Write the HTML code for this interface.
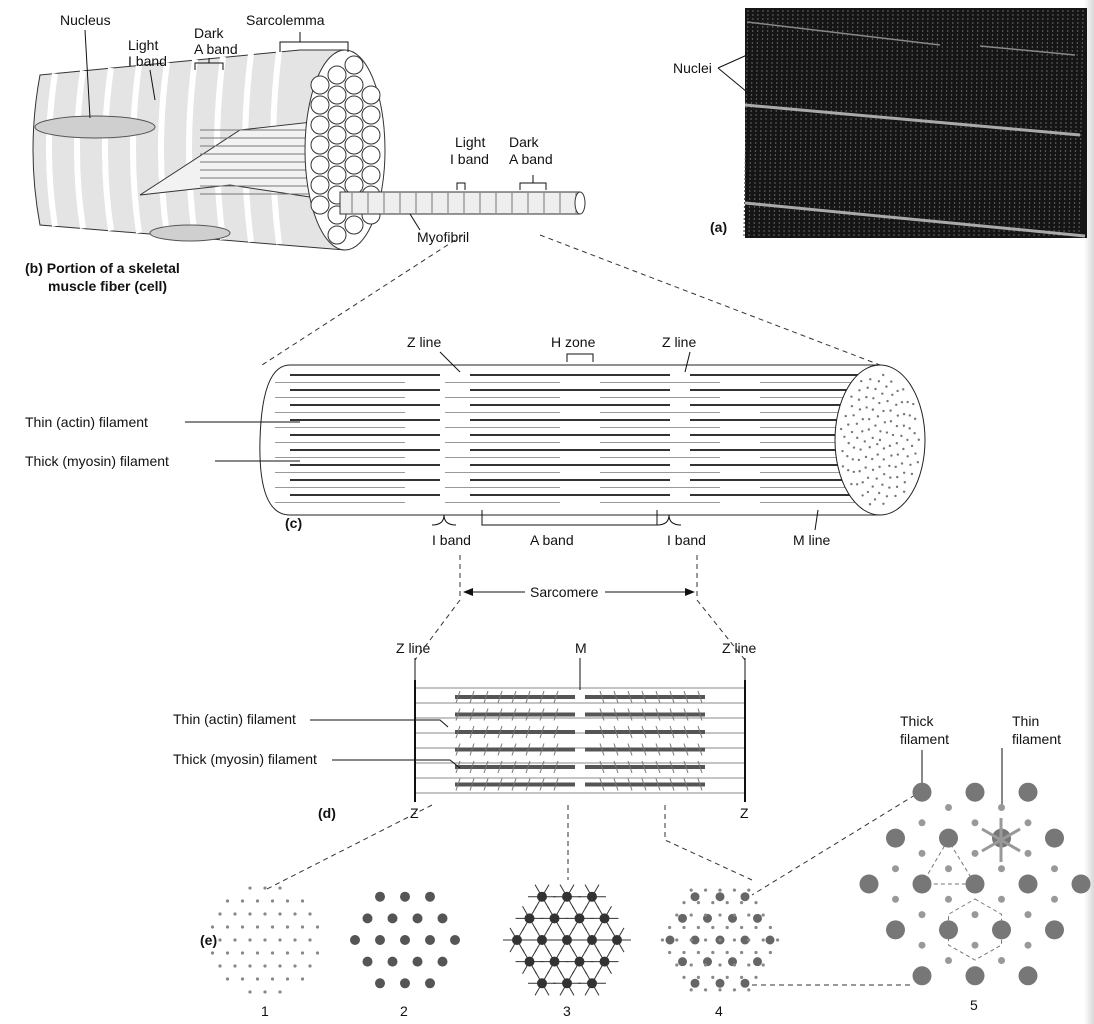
<!DOCTYPE html>
<html><head><meta charset="utf-8"><style>
body{margin:0;background:#fff}
svg{display:block}
text{font-family:"Liberation Sans",sans-serif;font-size:14px;fill:#111}
.b{font-weight:bold}
</style></head><body>
<svg id="s" width="1094" height="1024" viewBox="0 0 1094 1024">
<defs>
<linearGradient id="edge" x1="0" x2="1"><stop offset="0" stop-color="#fff"/><stop offset="1" stop-color="#d8d8d8"/></linearGradient>
</defs>
<rect x="1084" y="0" width="10" height="1024" fill="url(#edge)"/>
<!-- (a) photo -->
<g>
<rect x="745" y="8" width="342" height="230" fill="#151515"/>
<g id="stripes"></g>
<text x="673" y="73">Nuclei</text>
<line x1="718" y1="68" x2="747" y2="55" stroke="#111"/><line x1="718" y1="68" x2="747" y2="92" stroke="#111"/>
<text x="710" y="232" class="b">(a)</text>
</g>
<!-- (b) fiber -->
<g>
<path d="M40,75 L300,50 L345,50 L345,250 L320,248 L40,225 Q26,150 40,75Z" fill="#e4e4e4" stroke="#333"/>
<g id="fstripes"></g>
<ellipse cx="95" cy="127" rx="60" ry="11" fill="#cfcfcf" stroke="#555"/>
<ellipse cx="190" cy="233" rx="40" ry="8" fill="#cfcfcf" stroke="#555"/>
<path d="M140,195 L240,130 L330,120 L330,200 L230,185Z" fill="#f2f2f2" stroke="#333"/>
<g id="fibrils"></g>
<ellipse cx="345" cy="150" rx="40" ry="100" fill="#fff" stroke="#333"/>
<g id="endcircles"></g>
<rect x="340" y="192" width="240" height="22" fill="#eee" stroke="#333"/>
<g id="mstripes"></g>
<ellipse cx="580" cy="203" rx="5" ry="11" fill="#fff" stroke="#333"/>
<text x="60" y="25">Nucleus</text><line x1="85" y1="30" x2="90" y2="118" stroke="#111"/>
<text x="128" y="50">Light</text><text x="128" y="66">I band</text><line x1="150" y1="70" x2="155" y2="100" stroke="#111"/>
<text x="194" y="38">Dark</text><text x="194" y="54">A band</text><path d="M195,70 v-7 h28 v7 M209,63 v-5" fill="none" stroke="#111"/>
<text x="246" y="25">Sarcolemma</text><path d="M280,52 v-10 h68 v10 M300,42 v-10" fill="none" stroke="#111"/>
<text x="455" y="147">Light</text><text x="450" y="164">I band</text><path d="M457,190 v-7 h8 v7" fill="none" stroke="#111"/>
<text x="509" y="147">Dark</text><text x="509" y="164">A band</text><path d="M520,190 v-7 h26 v7 M533,183 v-8" fill="none" stroke="#111"/>
<text x="417" y="242">Myofibril</text><line x1="420" y1="230" x2="410" y2="214" stroke="#111"/>
<text x="25" y="273" class="b">(b) Portion of a skeletal</text>
<text x="48" y="291" class="b">muscle fiber (cell)</text>
</g>
<path d="M463,235 L262,365 M540,235 L880,365" stroke="#333" stroke-dasharray="5,4" fill="none"/>
<!-- (c) -->
<g>
<path d="M290,365 L880,365 L880,515 L290,515 Q258,515 260,440 Q262,365 290,365Z" fill="#fff" stroke="#222"/>
<g id="cfil"></g>
<ellipse cx="880" cy="440" rx="45" ry="75" fill="#fff" stroke="#222"/>
<g id="cdots"></g>
<text x="407" y="347">Z line</text><line x1="440" y1="352" x2="460" y2="372" stroke="#111"/>
<text x="551" y="347">H zone</text><path d="M567,362 v-8 h26 v8" fill="none" stroke="#111"/>
<text x="662" y="347">Z line</text><line x1="690" y1="352" x2="685" y2="372" stroke="#111"/>
<text x="25" y="427">Thin (actin) filament</text><line x1="185" y1="422" x2="300" y2="422" stroke="#111"/>
<text x="25" y="466">Thick (myosin) filament</text><line x1="215" y1="461" x2="300" y2="461" stroke="#111"/>
<text x="285" y="528" class="b">(c)</text>
<path d="M432,525 q12,0 12,-10 q0,10 12,10 M482,510 v15 h175 v-15 M657,525 q12,0 12,-10 q0,10 12,10" fill="none" stroke="#111"/>
<text x="432" y="545">I band</text><text x="530" y="545">A band</text><text x="667" y="545">I band</text><text x="793" y="545">M line</text>
<line x1="815" y1="530" x2="818" y2="510" stroke="#111"/>
<path d="M460,555 L460,600 L415,660 M697,555 L697,600 L745,660" stroke="#333" stroke-dasharray="5,4" fill="none"/>
<text x="530" y="597">Sarcomere</text>
<path d="M466,592 H525 M605,592 H690" stroke="#111"/>
<path d="M463,592 l10,-4 v8Z M695,592 l-10,-4 v8Z" fill="#111"/>
</g>
<!-- (d) -->
<g>
<g id="dfil"></g>
<line x1="415" y1="680" x2="415" y2="802" stroke="#111" stroke-width="2"/>
<line x1="745" y1="680" x2="745" y2="802" stroke="#111" stroke-width="2"/>
<text x="396" y="653">Z line</text><line x1="415" y1="658" x2="415" y2="680" stroke="#111"/>
<text x="575" y="653">M</text><line x1="580" y1="658" x2="580" y2="690" stroke="#111"/>
<text x="722" y="653">Z line</text><line x1="745" y1="658" x2="745" y2="680" stroke="#111"/>
<text x="173" y="724">Thin (actin) filament</text><path d="M310,720 H440 L448,727" fill="none" stroke="#111"/>
<text x="173" y="764">Thick (myosin) filament</text><path d="M332,760 H450 L460,768" fill="none" stroke="#111"/>
<text x="318" y="818" class="b">(d)</text><text x="410" y="818">Z</text><text x="740" y="818">Z</text>
</g>
<path d="M432,805 L265,890 M568,805 L568,880 M665,805 L665,840 L752,880 M915,795 L752,895 M752,985 L912,985" stroke="#333" stroke-dasharray="5,4" fill="none"/>
<!-- (e) -->
<g id="e">
<text x="200" y="945" class="b">(e)</text>
<text x="261" y="1016">1</text><text x="400" y="1016">2</text><text x="563" y="1016">3</text><text x="715" y="1016">4</text><text x="970" y="1010">5</text>
<text x="900" y="726">Thick</text><text x="900" y="744">filament</text><line x1="922" y1="750" x2="922" y2="785" stroke="#111"/>
<text x="1012" y="726">Thin</text><text x="1012" y="744">filament</text><line x1="1002" y1="748" x2="1002" y2="808" stroke="#111"/>
<path d="M948,840 L922,884 L975,884Z M975,899 L1001.5,914.3 L1001.5,945 L975,960 L948.5,945 L948.5,914.3Z" fill="none" stroke="#777" stroke-dasharray="4,3"/>
</g>
</svg>
<script>
const NS="http://www.w3.org/2000/svg";
function mk(p,t,a){const e=document.createElementNS(NS,t);for(const k in a)e.setAttribute(k,a[k]);document.getElementById(p).appendChild(e);return e;}
// photo stripes
for(let x=748;x<1087;x+=5){const l=mk('stripes','line',{x1:x,y1:10,x2:x-4,y2:236,stroke:'#555','stroke-width':1.2,'stroke-dasharray':'2,2'});}
[[747,22,940,45,1.5,'#888'],[980,46,1075,55,1.5,'#888'],[745,105,1080,135,3,'#aaa'],[745,203,1085,236,3,'#aaa']].forEach(s=>{const l=mk('stripes','line',{x1:s[0],y1:s[1],x2:s[2],y2:s[3],stroke:s[5],'stroke-width':s[4]});});
// fiber stripes
for(let x=55;x<300;x+=28){const l=mk('fstripes','path',{d:`M${x},${75-(x-40)*0.1} Q${x-12},150 ${x},${225+(x-40)*0.08}`,stroke:'#fff','stroke-width':6,fill:'none'});}
for(let y=130;y<200;y+=8){const l=mk('fibrils','line',{x1:200,y1:y,x2:330,y2:y,stroke:'#777'});}
for(let r=0;r<9;r++)for(let c=0;c<4;c++){const cy=65+r*20+(c%2)*10,cx=320+c*17;if(((cx-345)/40)**2+((cy-150)/100)**2<0.85){const e=mk('endcircles','circle',{cx,cy,r:9,fill:'#fff',stroke:'#333'});}}
for(let x=352;x<580;x+=16){const l=mk('mstripes','line',{x1:x,y1:193,x2:x,y2:213,stroke:'#777'});}
// (c)
for(let y=375;y<510;y+=7.5){const t=Math.round((y-375)/7.5)%2;const segs=t?[[275,405],[445,560],[600,720],[760,860]]:[[290,440],[470,670],[690,860]];segs.forEach(s=>{const l=mk('cfil','line',{x1:s[0],y1:y,x2:s[1],y2:y,stroke:t?'#999':'#333','stroke-width':t?1:2});});}
for(let i=0;i<120;i++){const a=(i*2.399)%(2*Math.PI),r=Math.sqrt(i/120)*0.9;const e=mk('cdots','circle',{cx:880+Math.cos(a)*r*45,cy:440+Math.sin(a)*r*75,r:1.2,fill:'#777'});}
// (d)
for(let i=0;i<8;i++){const y=688+i*15;const l=mk('dfil','line',{x1:415,y1:y,x2:745,y2:y,stroke:'#888'});}
for(let i=0;i<6;i++){const y=697+i*17.5;[[455,575],[585,705]].forEach(s=>{const l=mk('dfil','line',{x1:s[0],y1:y,x2:s[1],y2:y,stroke:'#555','stroke-width':4});});for(let x=460;x<700;x+=14){if(Math.abs(x-580)<12)continue;const l=mk('dfil','line',{x1:x,y1:y-6,x2:x+(x<580?-4:4),y2:y+6,stroke:'#777'});}}
// (e) hex lattices
function hex(cx,cy,sp,R,fn){for(let j=-6;j<=6;j++)for(let i=-8;i<=8;i++){const x=cx+(i+j/2)*sp,y=cy+j*sp*0.866;if(Math.hypot(x-cx,y-cy)<=R)fn(x,y);}}
function dot(x,y,r,f){const e=mk('e','circle',{cx:x,cy:y,r,fill:f});}
hex(265,940,15,58,(x,y)=>dot(x,y,1.6,'#888'));
hex(405,940,25,62,(x,y)=>dot(x,y,5,'#555'));
hex(567,940,25,62,(x,y)=>{dot(x,y,5,'#333');[0,60,120].forEach(a=>{const r=a*Math.PI/180;const l=mk('e','line',{x1:x-Math.cos(r)*14,y1:y-Math.sin(r)*14,x2:x+Math.cos(r)*14,y2:y+Math.sin(r)*14,stroke:'#333'});});});
hex(720,940,25,62,(x,y)=>{dot(x,y,4.5,'#666');});
hex(720,940,14.4,62,(x,y)=>{dot(x,y,1.6,'#888');});
// group 5: thick at lattice points, thin at trigonal centres
hex(975,884,53,110,(x,y)=>dot(x,y,9.5,'#777'));
hex(975,884,53,140,(x,y)=>{[[26.5,15.3],[26.5,-15.3]].forEach(o=>{const px=x+o[0],py=y+o[1];if(Math.hypot(px-975,py-884)<=108)dot(px,py,3.5,'#999');});});
[30,90,150,210,270,330].forEach(a=>{const r=a*Math.PI/180;const l=mk('e','line',{x1:1001,y1:840,x2:1001+Math.cos(r)*22,y2:840+Math.sin(r)*22,stroke:'#999','stroke-width':3});});
</script>
</body></html>
